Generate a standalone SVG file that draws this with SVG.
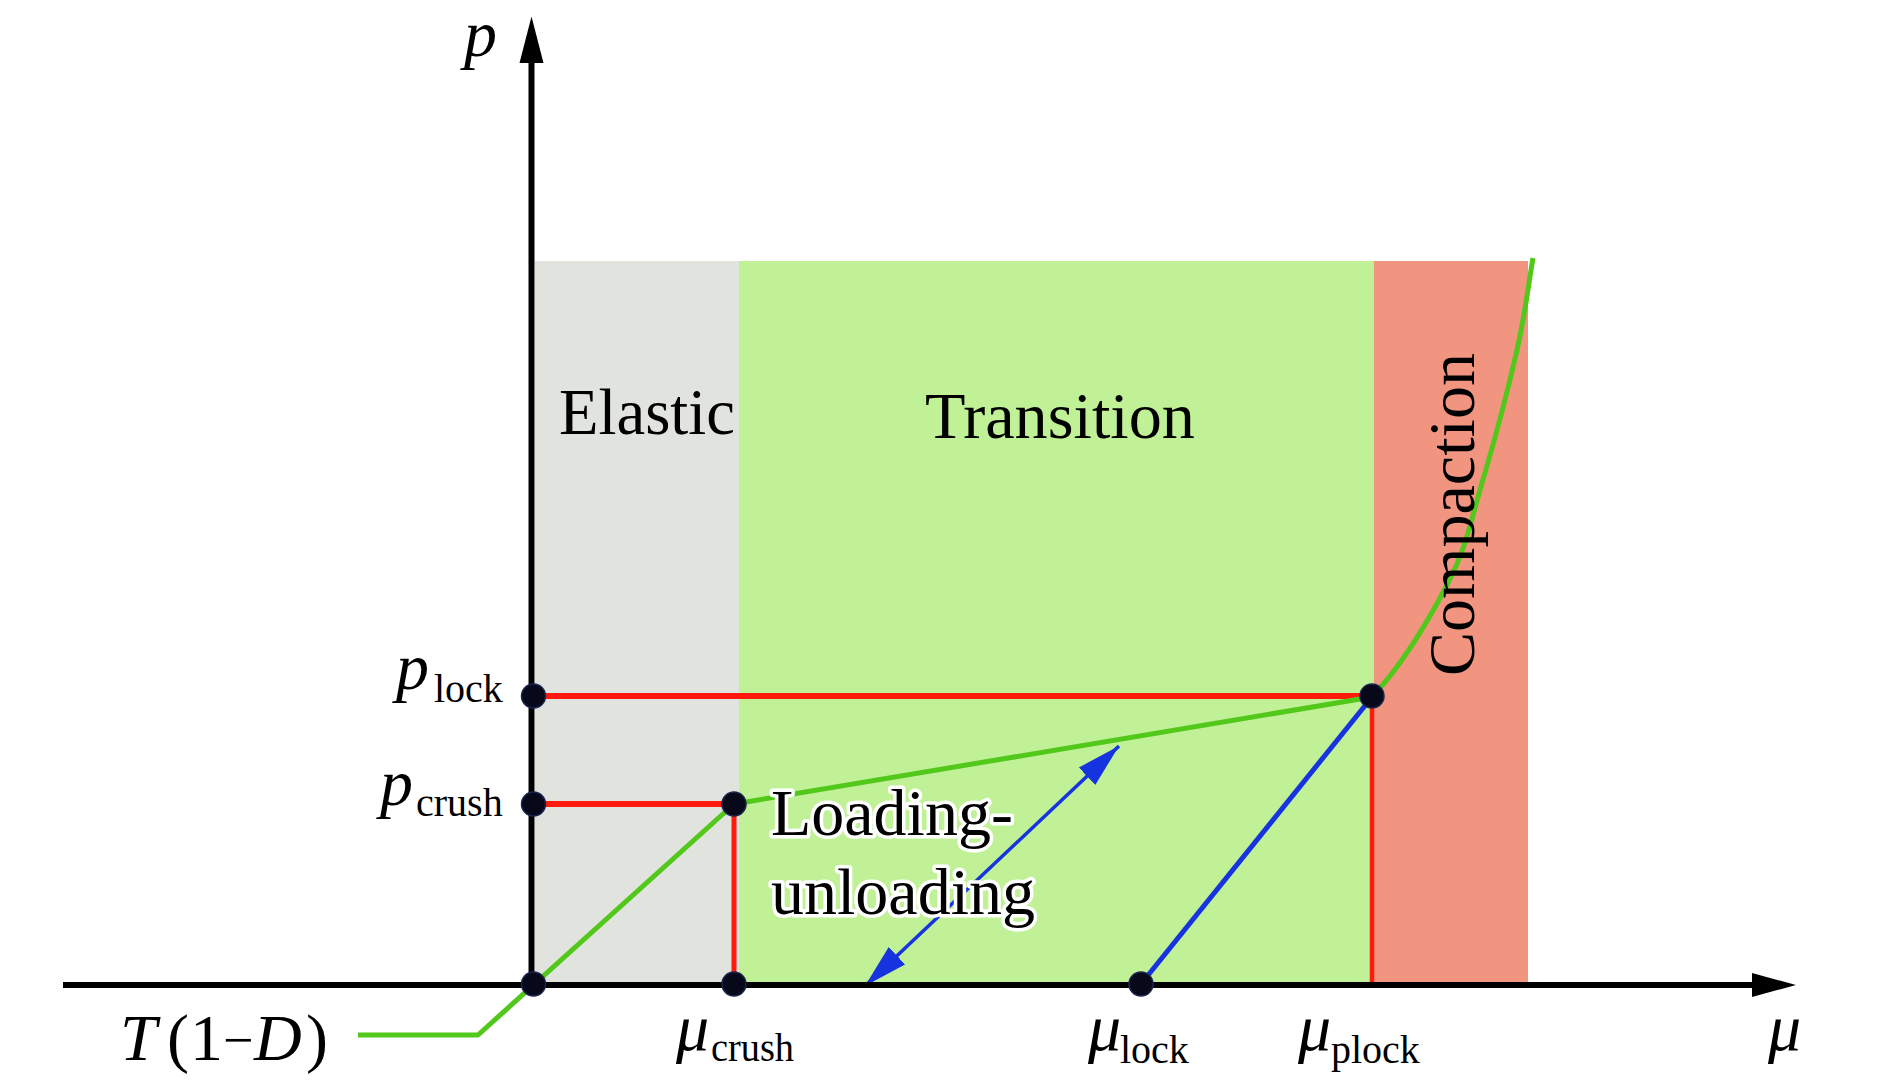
<svg xmlns="http://www.w3.org/2000/svg" width="1890" height="1081" viewBox="0 0 1890 1081">
<defs>
<style>
text{font-family:"Liberation Serif","Times New Roman",serif;fill:#000;}
.big{font-size:66px;}
.it{font-style:italic;}
.sub{font-size:40px;font-style:normal;}
.halo{paint-order:stroke;stroke:#fff;stroke-width:7px;stroke-linejoin:round;}
.red{stroke:#ff1a0c;fill:none;}
.green{stroke:#52c81a;stroke-width:5;fill:none;stroke-linejoin:round;}
.blue{stroke:#1633e0;fill:none;}
.dot{fill:#07081a;stroke:#1b2550;stroke-width:1.5;}
.axis{stroke:#000;stroke-width:6;}
</style>
<marker id="bh" viewBox="0 0 44 24" markerUnits="userSpaceOnUse" markerWidth="44" markerHeight="24" refX="44" refY="12" orient="auto-start-reverse">
<path d="M0,0 L44,12 L0,24 z" fill="#1633e0"/>
</marker>
</defs>
<rect width="1890" height="1081" fill="#fff"/>
<g id="regions">
<rect id="elastic-region" x="535" y="261" width="204" height="724" fill="#e1e3de"/>
<rect id="transition-region" x="739" y="261" width="635" height="724" fill="#c1f196"/>
<rect id="compaction-region" x="1374" y="261" width="154" height="724" fill="#f29580"/>
</g>
<g id="connectors">
<line class="red" x1="533" y1="696" x2="1372" y2="696" stroke-width="6"/>
<line class="red" x1="533" y1="804" x2="734" y2="804" stroke-width="6"/>
<line class="red" x1="734" y1="804" x2="734" y2="985" stroke-width="5"/>
<line class="red" x1="1372" y1="696" x2="1372" y2="985" stroke-width="4.5"/>
<path class="green" d="M358,1035 L478,1035 L734,804 L1372,697 C1402,665 1429.7,618.3 1448,583 C1466.3,547.7 1470.5,521.8 1482,483 C1493.5,444.2 1508.5,387.5 1517,350 C1525.5,312.5 1527.7,288.7 1533,258"/>
<line class="blue" x1="1141" y1="984" x2="1372" y2="697" stroke-width="5"/>
<line class="blue" x1="865" y1="986" x2="1119" y2="746" stroke-width="3.5" marker-start="url(#bh)" marker-end="url(#bh)"/>
</g>
<g id="axes">
<line class="axis" x1="63" y1="985" x2="1754" y2="985"/>
<polygon points="1752,973 1796,985 1752,997" fill="#000"/>
<line class="axis" x1="531.5" y1="985" x2="531.5" y2="60"/>
<polygon points="519.5,63 531.5,16.5 543.5,63" fill="#000"/>
</g>
<g id="points">
<circle id="pt-plock" class="dot" cx="533.5" cy="696" r="12"/>
<circle id="pt-pcrush" class="dot" cx="533.5" cy="804" r="12"/>
<circle id="pt-origin" class="dot" cx="533.5" cy="984" r="12"/>
<circle id="pt-crush" class="dot" cx="734" cy="804" r="12"/>
<circle id="pt-mucrush" class="dot" cx="734" cy="984" r="12"/>
<circle id="pt-mulock" class="dot" cx="1141" cy="984" r="12"/>
<circle id="pt-lock" class="dot" cx="1372" cy="696" r="12"/>
</g>
<g id="labels">
<text class="big it" x="464" y="56">p</text>
<text class="big" x="559" y="434" textLength="176" lengthAdjust="spacingAndGlyphs">Elastic</text>
<text class="big" x="925" y="438" textLength="270" lengthAdjust="spacingAndGlyphs">Transition</text>
<text class="big" transform="translate(1474,676) rotate(-90)" textLength="323" lengthAdjust="spacingAndGlyphs">Compaction</text>
<text class="big halo" x="771" y="835">Loading-</text>
<text class="big halo" x="771" y="914">unloading</text>
<text class="big it" x="396" y="689">p</text><text class="sub" x="434" y="702">lock</text>
<text class="big it" x="380" y="805">p</text><text class="sub" x="416" y="816">crush</text>
<text class="big it" x="676" y="1050">μ</text><text class="sub" x="711" y="1061" textLength="83" lengthAdjust="spacingAndGlyphs">crush</text>
<text class="big it" x="1088" y="1050">μ</text><text class="sub" x="1120" y="1063">lock</text>
<text class="big it" x="1298" y="1050">μ</text><text class="sub" x="1331" y="1063">plock</text>
<text class="big it" x="1768" y="1050">μ</text>
<text class="big"><tspan class="it" x="120" y="1060">T</tspan><tspan x="167" y="1060">(</tspan><tspan x="190" y="1060">1</tspan><tspan x="223" y="1058" font-size="54">−</tspan><tspan class="it" x="254" y="1060">D</tspan><tspan x="306" y="1060">)</tspan></text>
</g>
</svg>
